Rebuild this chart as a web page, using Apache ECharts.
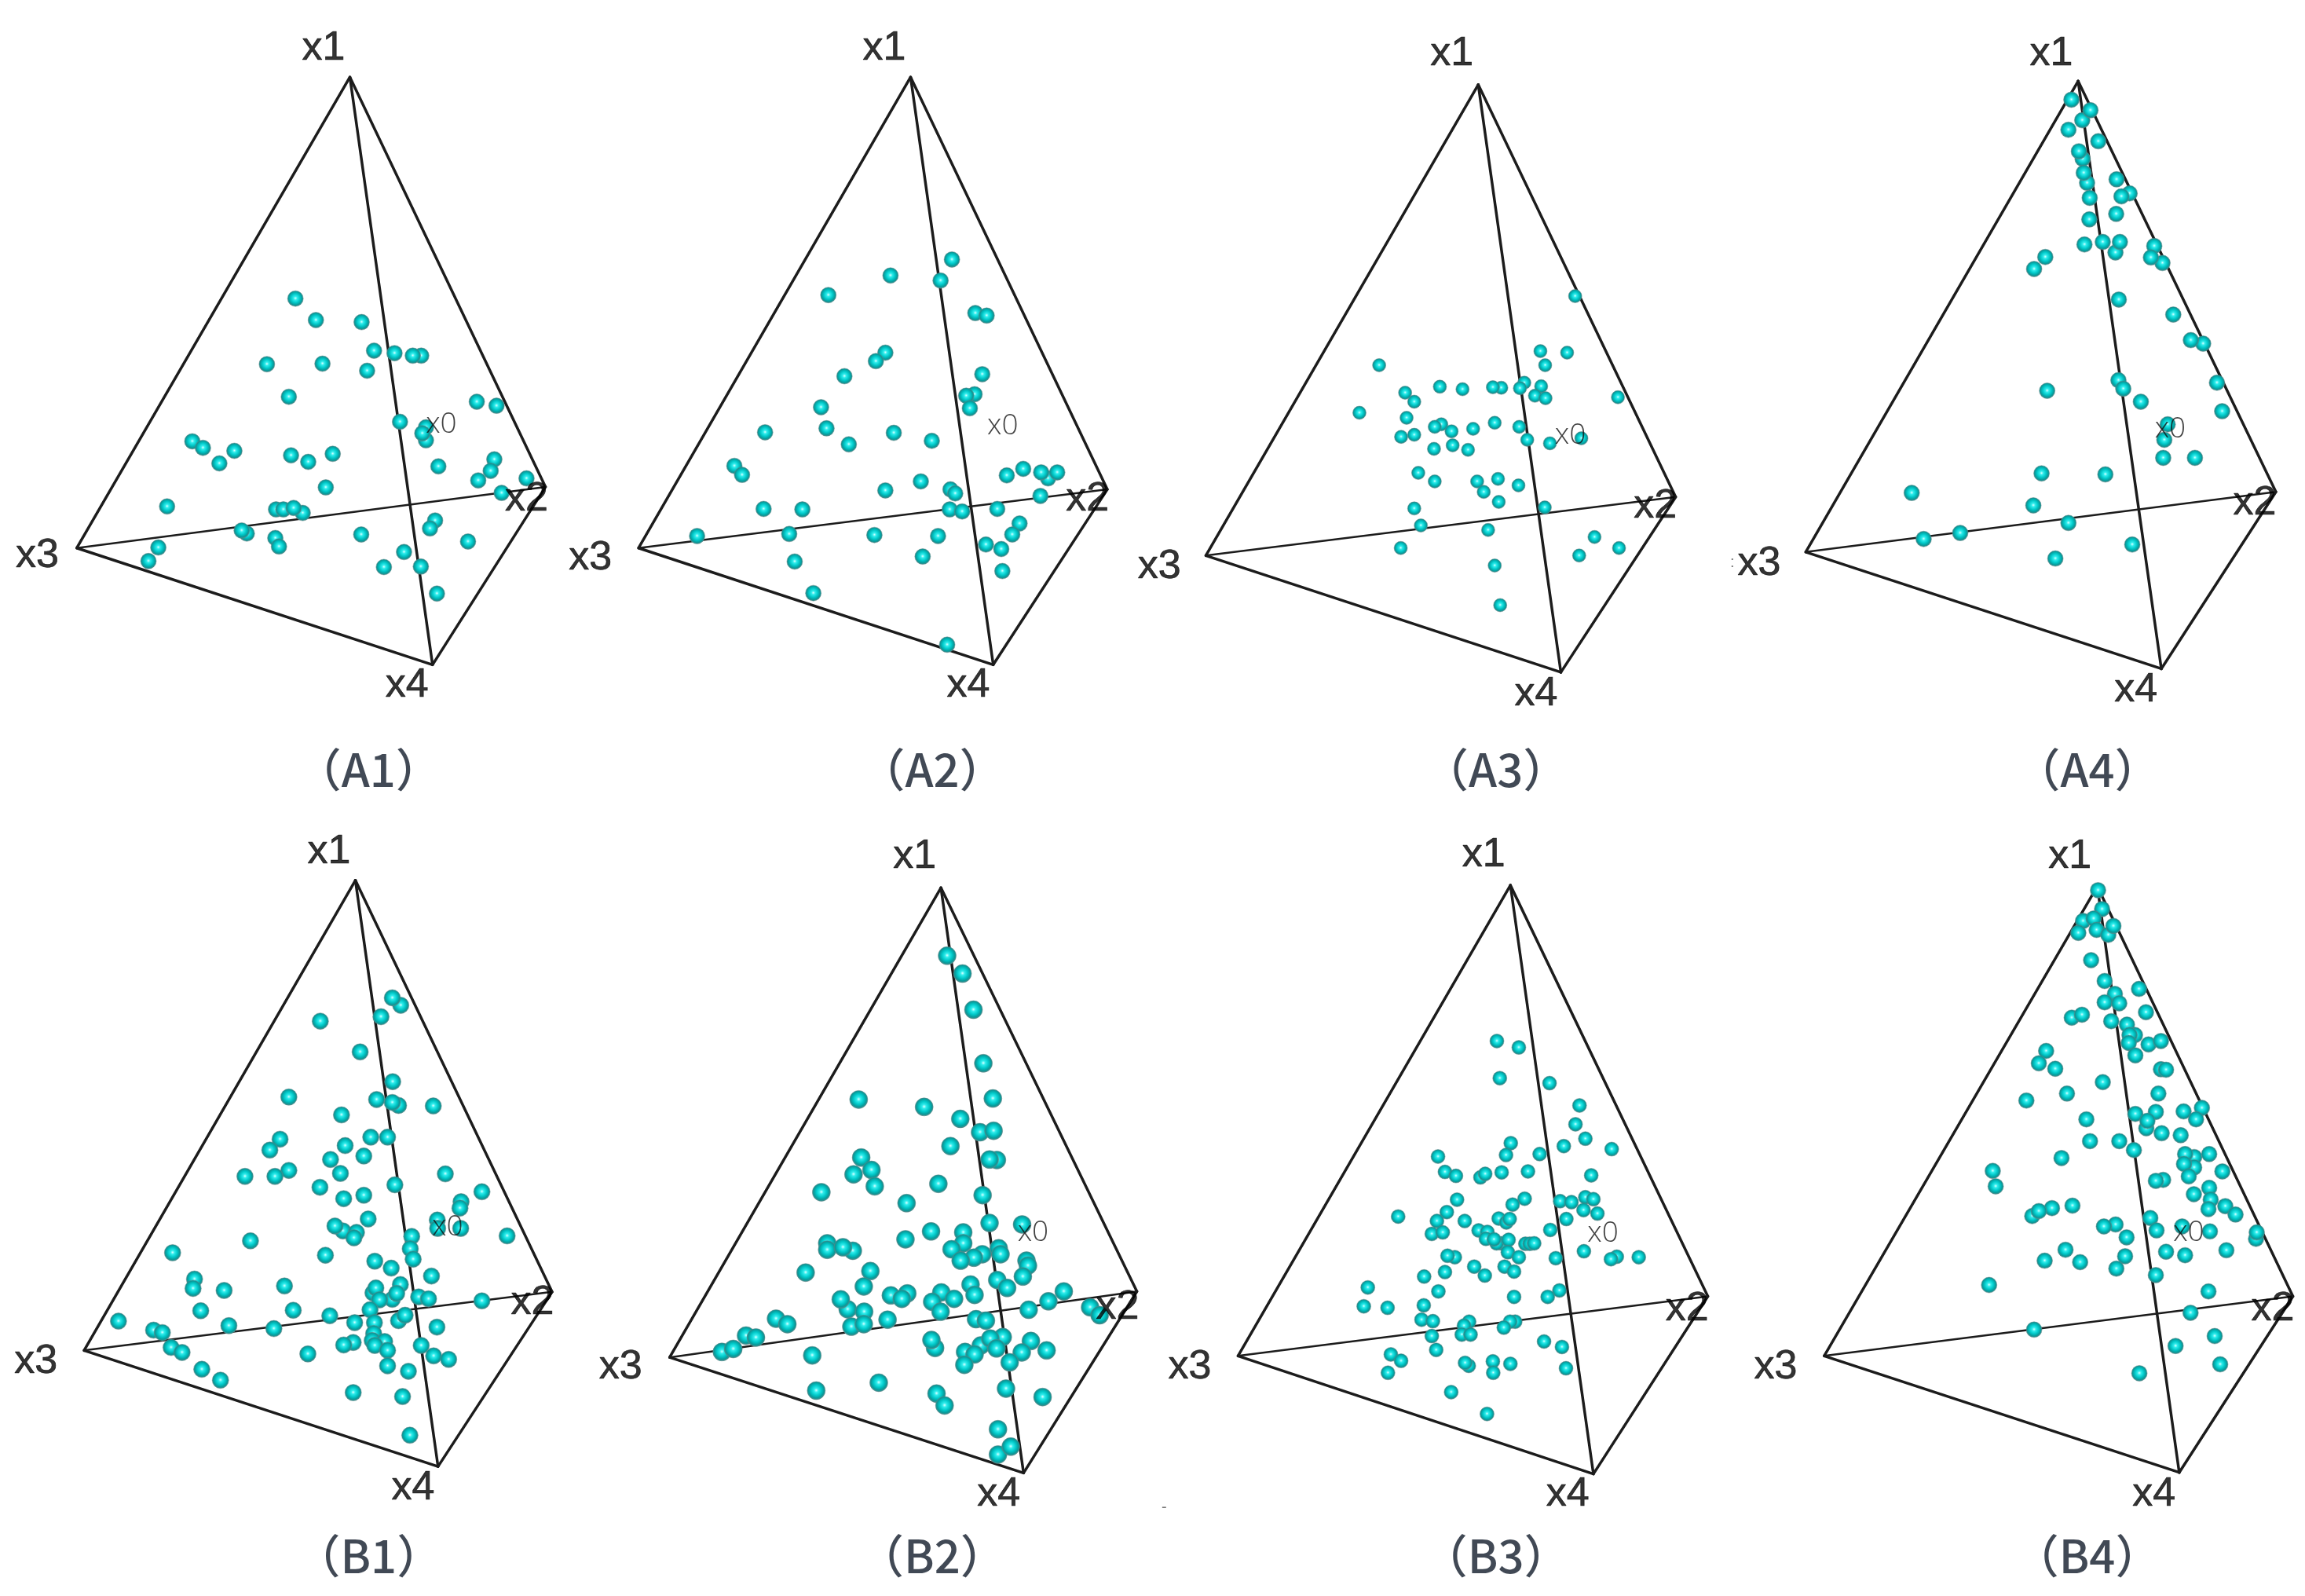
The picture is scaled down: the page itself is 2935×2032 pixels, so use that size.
<!DOCTYPE html>
<html>
<head>
<meta charset="utf-8">
<style>html,body{margin:0;padding:0;background:#fff}#c{width:2935px;height:2032px}</style>
<script src="https://cdn.jsdelivr.net/npm/echarts@6/dist/echarts.min.js"></script>
</head>
<body>
<div id="c"></div>
<script>
var panelNames = ['A1','A2','A3','A4','B1','B2','B3','B4'];
var vertexLabels = ['x1','x2','x3','x4'];

var verticesA1 = [[957,107],[1492,925],[210,1047],[1183,1280]];
var verticesA2 = [[944,107],[1482,930],[200,1047],[1170,1280]];
var verticesA3 = [[950,122],[1490,945],[205,1062],[1176,1295]];
var verticesA4 = [[960,115],[1490,935],[230,1055],[1183,1288]];
var verticesB1 = [[972,128],[1510,958],[230,1076],[1198,1310]];
var verticesB2 = [[984,143],[1520,957],[242,1090],[1210,1323]];
var verticesB3 = [[995,138],[1535,967],[250,1087],[1222,1325]];
var verticesB4 = [[1000,140],[1535,967],[253,1087],[1224,1322]];

var pointsA1 = [[808,549],[864,592],[989,596],[1023,653],[1079,658],[1152,663],[1129,663],[730,680],[882,679],[1004,693],[790,745],[1304,755],[1358,763],[1094,795],[1165,806],[1165,832],[1155,818],[526,834],[555,847],[641,853],[600,878],[796,862],[843,875],[910,859],[1199,884],[1352,870],[1342,893],[1308,912],[1440,908],[891,926],[1372,937],[457,964],[755,970],[775,970],[828,977],[803,967],[675,1018],[661,1012],[753,1027],[763,1044],[988,1020],[1190,992],[1176,1008],[1280,1034],[433,1046],[406,1073],[1105,1055],[1050,1085],[1151,1084],[1195,1138]];
var pointsA2 = [[1057,471],[889,503],[1026,513],[719,542],[1121,578],[1152,583],[875,657],[849,674],[763,704],[1140,700],[1119,740],[1096,743],[1106,768],[699,766],[714,808],[546,816],[898,817],[775,840],[1002,833],[462,883],[483,901],[1207,902],[1252,889],[1320,908],[1301,896],[1345,896],[875,932],[972,914],[1053,930],[1066,938],[1299,943],[542,969],[648,970],[1051,970],[1085,974],[1181,969],[1242,998],[1222,1020],[612,1019],[360,1023],[845,1021],[1019,1023],[1150,1040],[1192,1049],[627,1074],[977,1064],[1195,1093],[678,1137],[1044,1240]];
var pointsA3 = [[1215,544],[1120,654],[1193,657],[1133,682],[679,682],[1076,717],[1064,728],[1013,727],[990,726],[907,730],[845,725],[1122,724],[750,737],[775,755],[1105,743],[1134,748],[1332,746],[625,777],[754,787],[849,800],[831,805],[877,814],[936,809],[995,797],[1062,805],[775,821],[739,825],[829,849],[880,842],[922,851],[1084,831],[1146,838],[1232,828],[786,897],[831,914],[947,914],[965,935],[1004,909],[1060,922],[1006,955],[775,968],[1132,966],[793,1002],[977,1011],[738,1047],[1268,1025],[1335,1047],[1226,1062],[995,1082],[1010,1161]];
var pointsA4 = [[942,152],[971,193],[993,173],[934,212],[1014,235],[972,270],[962,255],[984,318],[975,298],[991,348],[1063,311],[1098,339],[1076,345],[990,391],[1062,380],[977,441],[1026,436],[1060,457],[1072,436],[1164,444],[1186,478],[1155,467],[872,466],[842,490],[1069,551],[1215,581],[1295,639],[1262,632],[877,733],[1068,712],[1081,729],[1128,755],[1332,717],[1346,774],[1200,800],[1191,831],[1188,867],[1273,867],[862,898],[1033,900],[514,937],[840,962],[934,997],[644,1017],[546,1029],[1105,1040],[899,1068]];
var pointsB1 = [[1096,380],[1073,365],[1042,403],[876,412],[985,474],[1074,534],[790,565],[1030,570],[1090,582],[1073,576],[1185,583],[934,601],[766,650],[738,672],[1014,646],[1060,646],[944,663],[904,691],[995,684],[790,713],[752,725],[670,725],[931,719],[1218,720],[875,747],[1080,742],[995,763],[940,770],[1318,756],[1261,776],[1258,789],[1007,811],[1196,813],[938,835],[916,825],[975,838],[968,849],[1197,830],[1260,830],[1126,846],[1387,845],[685,855],[1122,871],[1130,892],[890,884],[472,879],[1025,896],[1070,910],[1180,926],[532,932],[528,951],[613,955],[778,946],[1020,960],[1028,950],[1095,943],[1073,973],[1085,961],[1038,974],[1145,968],[1172,972],[1318,976],[549,996],[802,995],[1012,994],[902,1006],[324,1017],[626,1026],[749,1032],[970,1020],[1090,1016],[1108,1005],[1024,1020],[420,1035],[444,1040],[1195,1029],[1022,1042],[1018,1056],[1052,1058],[966,1060],[940,1065],[1025,1066],[1060,1076],[468,1070],[498,1080],[1152,1066],[1186,1087],[1227,1094],[842,1083],[1060,1107],[552,1114],[603,1136],[1117,1118],[966,1161],[1101,1169],[1121,1247]];
var pointsB2 = [[1001,280],[1043,316],[1073,389],[1100,497],[1126,568],[759,570],[938,585],[1037,609],[1091,636],[1128,633],[1010,664],[1137,692],[1117,691],[766,687],[794,712],[745,721],[803,745],[977,740],[657,757],[1098,763],[890,779],[1206,822],[1117,819],[957,836],[1045,838],[1045,860],[887,852],[673,860],[673,873],[743,875],[716,868],[1013,872],[1142,870],[1147,882],[1097,882],[1074,889],[1038,895],[1218,895],[1222,905],[1208,927],[614,919],[791,916],[1138,934],[1065,943],[1165,950],[773,947],[985,959],[892,961],[847,965],[877,972],[1020,972],[1076,964],[960,978],[1320,957],[1278,977],[729,993],[710,973],[774,998],[983,998],[1224,994],[1392,989],[1418,1005],[533,1012],[564,1023],[838,1014],[739,1028],[773,1023],[1080,1013],[1107,1016],[451,1046],[478,1050],[968,1071],[958,1055],[1153,1049],[1093,1066],[1119,1052],[1230,1057],[385,1079],[416,1073],[1136,1072],[1050,1079],[1076,1084],[1205,1080],[1273,1076],[632,1086],[1172,1100],[1048,1105],[814,1141],[643,1157],[972,1163],[994,1187],[1162,1153],[1262,1170],[1140,1235],[1140,1286],[1175,1270]];
var pointsB3 = [[958,452],[1018,465],[966,527],[1102,537],[1184,582],[1173,620],[1200,649],[1141,664],[1272,670],[996,658],[983,682],[1075,680],[797,685],[816,716],[846,724],[913,727],[926,720],[971,717],[1043,715],[1216,723],[849,772],[1034,770],[1001,782],[1131,775],[1162,777],[1200,767],[1222,771],[1195,793],[1233,800],[821,797],[963,810],[984,818],[993,811],[1148,811],[794,815],[870,815],[780,841],[810,838],[908,834],[932,837],[928,851],[970,860],[957,860],[950,852],[990,853],[1104,833],[1036,861],[1048,861],[1060,860],[988,878],[1018,888],[1196,876],[843,888],[823,885],[1119,890],[1286,887],[1270,892],[1346,888],[688,806],[925,925],[896,907],[979,907],[1005,917],[816,918],[759,927],[605,949],[798,957],[1129,955],[1097,968],[1005,968],[594,987],[659,990],[758,985],[752,1014],[783,1017],[882,1018],[868,1026],[1008,1018],[994,1018],[977,1030],[862,1044],[886,1044],[780,1047],[1087,1058],[1136,1069],[792,1075],[668,1084],[696,1097],[660,1121],[881,1107],[871,1101],[947,1098],[948,1121],[995,1103],[1147,1112],[833,1160],[931,1204]];
var pointsB4 = [[1013,186],[1002,148],[961,210],[990,205],[948,234],[998,228],[1030,238],[1044,220],[983,289],[1020,331],[1048,357],[1114,347],[1020,374],[1060,376],[930,405],[958,399],[1133,394],[1038,412],[1081,419],[1103,440],[1088,440],[1086,456],[1140,459],[1174,452],[860,472],[1104,481],[840,497],[885,508],[1174,509],[1188,510],[1015,535],[917,558],[1167,558],[806,572],[1286,587],[1104,599],[1160,595],[1236,594],[1270,610],[970,610],[1134,628],[1137,613],[1176,638],[1228,642],[980,654],[1060,654],[1100,672],[1265,686],[1240,680],[1306,680],[902,688],[1265,707],[1237,700],[1342,715],[714,714],[722,745],[1250,725],[1180,732],[1160,734],[1306,748],[1264,761],[1310,772],[1304,791],[1350,785],[1378,802],[876,789],[932,784],[822,805],[840,795],[1145,809],[1232,826],[1050,822],[1018,826],[1162,834],[1308,836],[1434,851],[1436,838],[1080,848],[913,873],[1188,877],[1353,874],[1240,884],[856,895],[953,898],[1076,886],[1052,911],[1160,924],[704,944],[1304,957],[1255,1000],[827,1034],[1321,1047],[1214,1067],[1336,1104],[1115,1122]];

var labelsA1 = [[885,49],[1440,950],[102,1062],[1113,1322],[1207,800],[1008,1490]];
var labelsA2 = [[872,49],[1428,950],[68,1068],[1102,1322],[1196,803],[1003,1490]];
var labelsA3 = [[878,60],[1434,964],[78,1084],[1108,1339],[1202,822],[998,1490]];
var labelsA4 = [[888,60],[1433,957],[105,1078],[1115,1330],[1207,810],[985,1490]];
var labelsB1 = [[900,70],[1456,980],[98,1098],[1130,1354],[1224,828],[1008,1490]];
var labelsB2 = [[912,80],[1467,990],[108,1110],[1142,1367],[1236,838],[960,1490]];
var labelsB3 = [[922,77],[1478,992],[118,1110],[1152,1367],[1248,840],[955,1490]];
var labelsB4 = [[925,80],[1480,992],[120,1110],[1155,1367],[1250,838],[972,1490]];

var specksA4 = [[33,1076,':']];
var specksB3 = [[48,1393,'-']];

var panelData = {
  A1:{v:verticesA1,p:pointsA1,l:labelsA1,s:[]},
  A2:{v:verticesA2,p:pointsA2,l:labelsA2,s:[]},
  A3:{v:verticesA3,p:pointsA3,l:labelsA3,s:[]},
  A4:{v:verticesA4,p:pointsA4,l:labelsA4,s:specksA4},
  B1:{v:verticesB1,p:pointsB1,l:labelsB1,s:[]},
  B2:{v:verticesB2,p:pointsB2,l:labelsB2,s:[]},
  B3:{v:verticesB3,p:pointsB3,l:labelsB3,s:specksB3},
  B4:{v:verticesB4,p:pointsB4,l:labelsB4,s:[]}
};
var frames = {
  A1:[0,30,730,1000,20], A2:[720,30,730,1000,20], A3:[1440,30,730,1000,17], A4:[2190,30,745,1000,20],
  B1:[0,1040,730,990,21], B2:[740,1040,730,990,23], B3:[1460,1040,730,990,18], B4:[2205,1040,730,990,20]
};
var edges = [[0,2],[0,1],[0,3],[2,3],[3,1],[2,1]];
var UNIT = 1568;

var sphere = {type:'radial',x:0.5,y:0.48,r:0.5,colorStops:[
  {offset:0,color:'#d8ffff'},{offset:0.22,color:'#30ecec'},{offset:0.55,color:'#00c8c8'},
  {offset:0.82,color:'#0a9898'},{offset:1,color:'#4f9090'}]};
var axisFont = '"Liberation Sans", Arial, sans-serif';

var grids=[],xs=[],ys=[],series=[];
panelNames.forEach(function(name,i){
  var f=frames[name], d=panelData[name];
  grids.push({left:f[0],top:f[1],width:f[2],height:f[3],show:false,containLabel:false});
  xs.push({type:'value',gridIndex:i,min:0,max:UNIT,show:false});
  ys.push({type:'value',gridIndex:i,min:0,max:UNIT,inverse:true,show:false});
  edges.forEach(function(e,k){
    series.push({type:'line',xAxisIndex:i,yAxisIndex:i,silent:true,symbol:'none',clip:false,z:2,
      lineStyle:{color:'#1c1c1c',width:k===5?2.5:3.5,cap:'round'},
      data:[d.v[e[0]],d.v[e[1]]]});
  });
  series.push({type:'scatter',name:name,xAxisIndex:i,yAxisIndex:i,silent:true,clip:false,z:3,
    symbol:'circle',symbolSize:f[4],
    itemStyle:{color:sphere,borderColor:'rgba(90,130,130,0.45)',borderWidth:1,opacity:1},
    data:d.p});
  var texts=[];
  vertexLabels.forEach(function(t,k){
    texts.push({value:d.l[k],name:t,label:{show:true,position:'inside',formatter:t,
      fontFamily:axisFont,fontSize:52,color:'#000000',textBorderColor:'#000000',textBorderWidth:0.7}});
  });
  texts.push({value:d.l[4],name:'x0',label:{show:true,position:'inside',formatter:'x0',
    fontFamily:'"Open Sans", sans-serif',fontWeight:300,fontSize:37,color:'#111111'}});
  texts.push({value:d.l[5],name:name,label:{show:true,position:'inside',formatter:'（'+name+'）',
    fontFamily:'"Noto Sans CJK SC", sans-serif',fontWeight:500,fontSize:58,color:'#121c2b'}});
  d.s.forEach(function(sp){
    texts.push({value:[sp[0],sp[1]],name:'',label:{show:true,position:'inside',formatter:sp[2],
      fontFamily:axisFont,fontSize:20,color:'#555555'}});
  });
  series.push({type:'scatter',xAxisIndex:i,yAxisIndex:i,silent:true,clip:false,z:4,
    symbolSize:1,itemStyle:{color:'rgba(0,0,0,0)'},data:texts});
});

var chart = echarts.init(document.getElementById('c'),null,{renderer:'canvas'});
chart.setOption({animation:false,backgroundColor:'#ffffff',grid:grids,xAxis:xs,yAxis:ys,series:series});
</script>
</body>
</html>
